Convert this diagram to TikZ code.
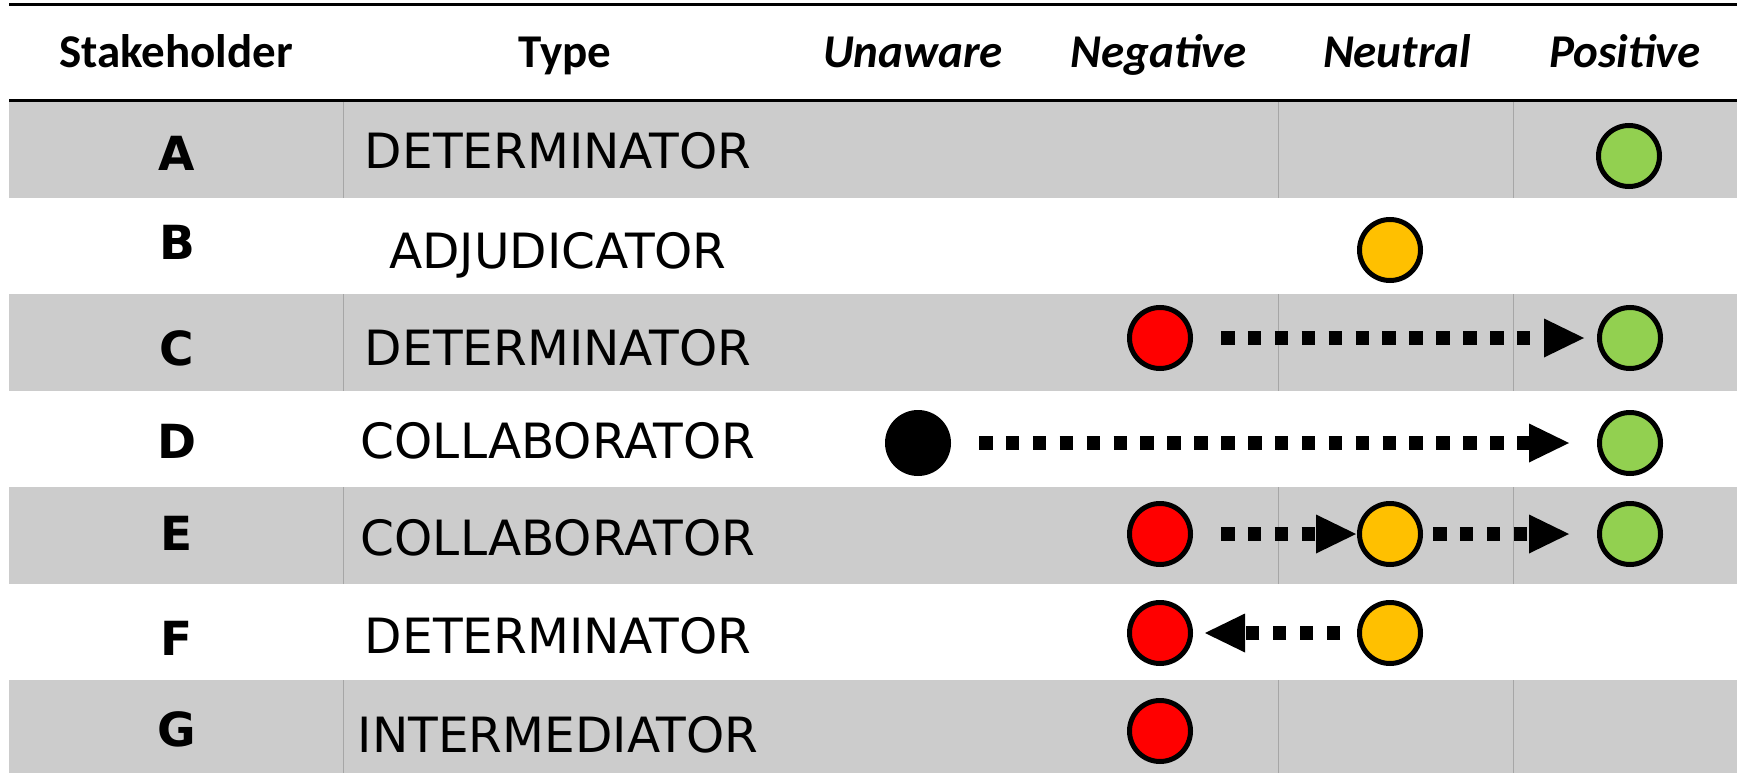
\documentclass[tikz,border=0pt]{standalone}
\usepackage{fontspec}
\usepackage{tikz}
\usetikzlibrary{arrows.meta}
\newfontfamily\headfont{Carlito}
\newfontfamily\cellfont{DejaVu Sans}
\definecolor{rowgray}{HTML}{CCCCCC}
\definecolor{sepgray}{HTML}{A6A6A6}
\definecolor{posgreen}{HTML}{92D050}
\definecolor{neuyellow}{HTML}{FFC000}
\definecolor{negred}{HTML}{FF0000}
\tikzset{
  head/.style={anchor=base, inner sep=0pt, font=\headfont\bfseries\fontsize{47}{50}\selectfont},
  mood/.style={head, font=\headfont\bfseries\itshape\fontsize{47}{50}\selectfont},
  holder/.style={anchor=base, inner sep=0pt, font=\cellfont\bfseries\fontsize{47}{50}\selectfont},
  kind/.style={anchor=base, inner sep=0pt, font=\cellfont\fontsize{48.6}{52}\selectfont},
  state/.style={circle, draw=black, line width=5pt, minimum size=61pt, inner sep=0pt, outer sep=0pt},
  move/.style={line width=13.5pt, dash pattern=on 13.5pt off 13.4pt,
    -{Triangle[length=40pt,width=39pt,line width=0pt]}}
}

\begin{document}
\begin{tikzpicture}[x=1pt, y=-1pt]

\useasboundingbox (0,0) rectangle (1737,773);

% Shaded rows and their column rules
\foreach \y in {101,294,487,680} {
  \fill[rowgray] (9,\y) rectangle (1737,\y+96.7);
  \foreach \x in {343.5,1278,1513}
    \draw[sepgray, line width=1pt] (\x,\y) -- (\x,\y+96.7);
}

% Top and header rules
\draw[line width=3pt] (9,5) -- (1737,5);
\draw[line width=3.5pt] (9,100.5) -- (1737,100.5);

% Header
\node[head] (hStake) at (176,68) {Stakeholder};
\node[head] (hType) at (565,68) {Type};
\node[mood] (hUnaware) at (913,68) {Unaware};
\node[mood] (hNeg) at (1159,68) {Negative};
\node[mood] (hNeu) at (1397,68) {Neutral};
\node[mood] (hPos) at (1625,68) {Positive};

% Stakeholders
\node[holder] (sA) at (177,170) {A};
\node[holder] (sB) at (177,259) {B};
\node[holder] (sC) at (177,365) {C};
\node[holder] (sD) at (177,458) {D};
\node[holder] (sE) at (177,550) {E};
\node[holder] (sF) at (177,655) {F};
\node[holder] (sG) at (177,746) {G};

% Types
\node[kind] (tA) at (558,168) {DETERMINATOR};
\node[kind] (tB) at (558,268) {ADJUDICATOR};
\node[kind] (tC) at (558,365) {DETERMINATOR};
\node[kind] (tD) at (558,458) {COLLABORATOR};
\node[kind] (tE) at (558,555) {COLLABORATOR};
\node[kind] (tF) at (558,653) {DETERMINATOR};
\node[kind] (tG) at (558,752) {INTERMEDIATOR};

% Attitudes
\node[state, fill=posgreen] (aPos) at (1629,156) {};
\node[state, fill=neuyellow] (bNeu) at (1390,250) {};
\node[state, fill=negred] (cNeg) at (1160,338) {};
\node[state, fill=posgreen] (cPos) at (1630,338) {};
\node[state, fill=black] (dUna) at (918,443) {};
\node[state, fill=posgreen] (dPos) at (1630,443) {};
\node[state, fill=negred] (eNeg) at (1160,534) {};
\node[state, fill=neuyellow] (eNeu) at (1390,534) {};
\node[state, fill=posgreen] (ePos) at (1630,534) {};
\node[state, fill=negred] (fNeg) at (1160,633) {};
\node[state, fill=neuyellow] (fNeu) at (1390,633) {};
\node[state, fill=negred] (gNeg) at (1160,731) {};

% Shifts in attitude
\draw[move, shorten <=30.5pt, shorten >=15.5pt] (cNeg) -- (cPos);
\draw[move, shorten <=30.5pt, shorten >=30.5pt] (dUna) -- (dPos);
\draw[move, shorten <=30.5pt, shorten >=3.5pt] (eNeg) -- (eNeu);
\draw[move, shorten <=12.5pt, shorten >=30.5pt] (eNeu) -- (ePos);
\draw[move, shorten <=19.5pt, shorten >=14.5pt] (fNeu) -- (fNeg);

\end{tikzpicture}
\end{document}
